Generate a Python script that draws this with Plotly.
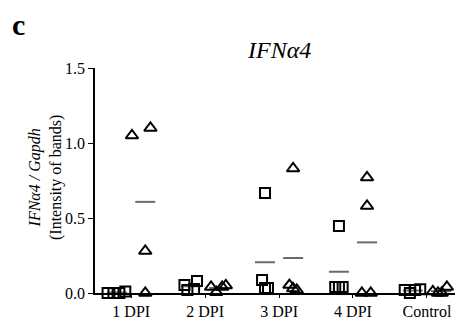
import numpy as np
import plotly.graph_objects as go

categories = ["1 DPI", "2 DPI", "3 DPI", "4 DPI", "Control"]

# values per category: squares group and triangles group
squares = [
    [0.0, 0.0, 0.0, 0.01],
    [0.053, 0.02, 0.027, 0.08],
    [0.667, 0.087, 0.033, 0.033],
    [0.447, 0.04, 0.04, 0.04],
    [0.02, 0.0, 0.02, 0.025],
]
triangles = [
    [1.05, 1.10, 0.28, 0.0],
    [0.04, 0.005, 0.04, 0.05],
    [0.83, 0.053, 0.03, 0.02],
    [0.77, 0.58, 0.0, 0.0],
    [0.01, 0.0, 0.0, 0.04],
]
y_ticks = [0.0, 0.5, 1.0, 1.5]

# horizontal scatter offsets (layout only)
sq_off = [
    [-0.32, -0.24, -0.16, -0.08],
    [-0.28, -0.24, -0.15, -0.11],
    [-0.19, -0.23, -0.19, -0.15],
    [-0.19, -0.24, -0.19, -0.14],
    [-0.30, -0.23, -0.16, -0.09],
]
tr_off = [
    [0.01, 0.26, 0.19, 0.19],
    [0.08, 0.15, 0.23, 0.28],
    [0.19, 0.14, 0.19, 0.24],
    [0.19, 0.19, 0.12, 0.24],
    [0.08, 0.15, 0.20, 0.27],
]
grp_off = 0.19
half_w = 0.135

fig = go.Figure()

# mean lines
mx, my = [], []
for i in range(len(categories)):
    for vals, s in ((squares[i], -1), (triangles[i], 1)):
        m = float(np.mean(vals))
        c = i + s * grp_off
        mx += [c - half_w, c + half_w, None]
        my += [m, m, None]
fig.add_trace(go.Scatter(x=mx, y=my, mode="lines",
                         line=dict(color="#6a6a6a", width=2),
                         hoverinfo="skip", showlegend=False, cliponaxis=False))

sx, sy, tx, ty = [], [], [], []
for i in range(len(categories)):
    for v, o in zip(squares[i], sq_off[i]):
        sx.append(i + o); sy.append(v)
    for v, o in zip(triangles[i], tr_off[i]):
        tx.append(i + o); ty.append(v)

fig.add_trace(go.Scatter(x=sx, y=sy, mode="markers", cliponaxis=False,
                         marker=dict(symbol="square-open", size=10, color="black",
                                     line=dict(width=2, color="black")),
                         showlegend=False))
fig.add_trace(go.Scatter(x=tx, y=ty, mode="markers", cliponaxis=False,
                         marker=dict(symbol="triangle-up-open", size=11, color="black",
                                     line=dict(width=2, color="black")),
                         showlegend=False))

font = "Liberation Serif, Times New Roman, serif"
pw, ph = 460 - 95 - 5, 324 - 68 - 31
def px(x): return (x - 95) / pw
def py(y): return (324 - 31 - y) / ph

fig.update_layout(
    width=460, height=324,
    margin=dict(l=95, r=5, t=68, b=31),
    paper_bgcolor="white", plot_bgcolor="white",
    font=dict(family=font, size=16, color="black"),
    showlegend=False,
    xaxis=dict(range=[-0.49, 4.38], tickmode="array",
               tickvals=list(range(len(categories))), ticktext=categories,
               showgrid=False, zeroline=False, showline=True, linecolor="black",
               linewidth=1.5, ticks="outside", ticklen=3, tickcolor="black",
               tickfont=dict(family=font, size=16, color="black")),
    yaxis=dict(range=[0, 1.5], tickmode="array", tickvals=y_ticks,
               ticktext=[f"{t:.1f}" for t in y_ticks],
               showgrid=False, zeroline=False, showline=True, linecolor="black",
               linewidth=1.5, ticks="outside", ticklen=5, tickcolor="black",
               tickfont=dict(family=font, size=16, color="black")),
    annotations=[
        dict(text="<i>IFNα4</i>", x=px(279), y=py(50), xref="paper", yref="paper",
             xanchor="center", yanchor="middle",
             showarrow=False, font=dict(family=font, size=24, color="black")),
        dict(text="<b>c</b>", x=px(18), y=py(24), xref="paper", yref="paper",
             xanchor="center", yanchor="middle",
             showarrow=False, font=dict(family=font, size=30, color="black")),
        dict(text="<i>IFNα4 / Gapdh</i><br>(Intensity of bands)", textangle=-90,
             x=px(45), y=py(178), xref="paper", yref="paper",
             xanchor="center", yanchor="middle",
             showarrow=False, font=dict(family=font, size=16, color="black")),
    ],
)

fig.write_html("out.html")
